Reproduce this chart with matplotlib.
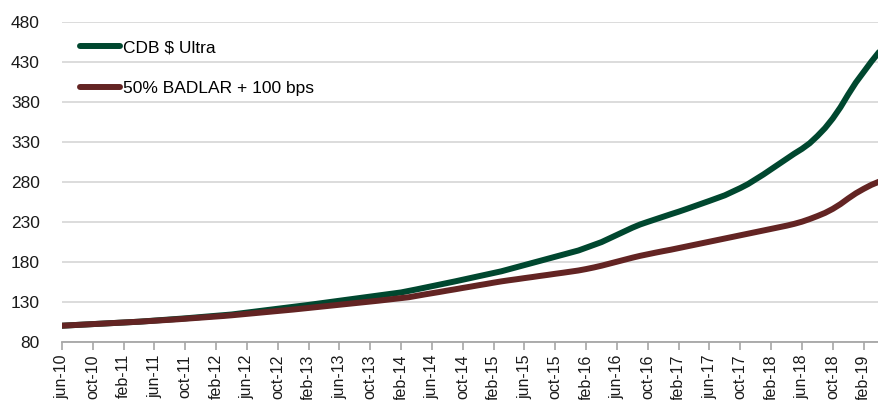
import numpy as np
import matplotlib.pyplot as plt

plt.rcParams['font.family'] = ['Liberation Sans', 'DejaVu Sans']

# Monthly index levels, jun-10 = 100
cdb_ultra = [
    100.0, 100.5, 101.0, 101.5, 102.0, 102.5, 103.0, 103.5, 104.0, 104.5,
    105.0, 105.7, 106.4, 107.1, 107.8, 108.5, 109.2, 110.0, 110.8, 111.6,
    112.4, 113.2, 114.0, 115.2, 116.4, 117.6, 118.8, 120.0, 121.2, 122.4,
    123.6, 124.8, 126.0, 127.3, 128.6, 129.9, 131.2, 132.5, 133.8, 135.1,
    136.4, 137.7, 139.0, 140.3, 141.6, 143.5, 145.4, 147.4, 149.4, 151.4,
    153.4, 155.4, 157.5, 159.6, 161.7, 163.8, 165.9, 168.0, 170.6, 173.2,
    175.8, 178.4, 181.0, 183.6, 186.2, 188.8, 191.4, 194.0, 197.5, 201.0,
    204.5, 209.0, 213.5, 218.0, 222.5, 226.5, 229.8, 233.0, 236.2, 239.4,
    242.5, 245.8, 249.2, 252.6, 256.0, 259.5, 263.0, 267.5, 272.0, 277.0,
    283.0, 289.0, 295.5, 302.0, 308.5, 315.0, 321.0, 328.0, 337.0, 347.0,
    359.0, 373.0, 389.0, 404.0, 417.0, 430.0, 442.0,
]
badlar = [
    100.0, 100.5, 101.0, 101.5, 102.0, 102.5, 103.0, 103.5, 104.0, 104.5,
    105.0, 105.6, 106.2, 106.8, 107.4, 108.0, 108.7, 109.4, 110.1, 110.8,
    111.5, 112.2, 113.0, 113.9, 114.8, 115.7, 116.6, 117.5, 118.4, 119.3,
    120.2, 121.2, 122.2, 123.2, 124.2, 125.2, 126.2, 127.2, 128.2, 129.2,
    130.2, 131.2, 132.3, 133.4, 134.5, 135.6, 137.3, 139.0, 140.6, 142.2,
    143.9, 145.5, 147.2, 148.8, 150.5, 152.1, 153.8, 155.4, 156.8, 158.1,
    159.5, 160.8, 162.2, 163.5, 164.9, 166.2, 167.6, 169.0, 170.8, 172.8,
    175.0, 177.5, 180.0, 182.5, 185.0, 187.3, 189.3, 191.3, 193.2, 195.0,
    197.0, 199.0, 201.0, 203.0, 205.0, 207.0, 209.0, 211.0, 213.0, 215.0,
    217.0, 219.0, 221.0, 223.0, 225.0, 227.3, 230.0, 233.3, 237.0, 241.0,
    246.0, 252.0, 259.0, 265.5, 271.0, 276.0, 280.0,
]

tick_labels = [
    'jun-10', 'oct-10', 'feb-11', 'jun-11', 'oct-11', 'feb-12', 'jun-12',
    'oct-12', 'feb-13', 'jun-13', 'oct-13', 'feb-14', 'jun-14', 'oct-14',
    'feb-15', 'jun-15', 'oct-15', 'feb-16', 'jun-16', 'oct-16', 'feb-17',
    'jun-17', 'oct-17', 'feb-18', 'jun-18', 'oct-18', 'feb-19',
]
y_ticks = [80, 130, 180, 230, 280, 330, 380, 430, 480]

x = np.arange(len(cdb_ultra))

fig = plt.figure(figsize=(8.79, 4.0), dpi=100)
ax = fig.add_axes([62 / 879, 58.3 / 400, 817 / 879, 320 / 400])

ax.plot(x, cdb_ultra, color='#00472f', lw=4.3, solid_capstyle='round',
        label='CDB $ Ultra', zorder=3)
ax.plot(x, badlar, color='#632423', lw=4.3, solid_capstyle='round',
        label='50% BADLAR + 100 bps', zorder=4)

ax.set_xlim(0, len(x) - 1)
ax.set_ylim(80, 480)
ax.set_yticks(y_ticks)
ax.set_xticks(np.arange(0, len(x), 4))
ax.set_xticklabels(tick_labels, rotation=90, fontsize=11.5, color='#1a1a1a')
ax.tick_params(axis='y', length=0, pad=16, labelsize=12.5, labelcolor='#1a1a1a')
ax.tick_params(axis='x', length=6, width=1.2, color='#a6a6a6', pad=3,
               direction='out')

ax.grid(axis='y', color='#d9d9d9', lw=1.3)
ax.set_axisbelow(True)
for side in ['top', 'right', 'left']:
    ax.spines[side].set_visible(False)
ax.spines['bottom'].set_color('#a6a6a6')
ax.spines['bottom'].set_linewidth(1.3)
ax.spines['bottom'].set_zorder(5)

leg = ax.legend(loc='upper left', bbox_to_anchor=(80 / 879, 1 - 40 / 400),
                bbox_transform=fig.transFigure, frameon=False, fontsize=12.5,
                handlelength=2.3, handletextpad=0.2, labelspacing=1.5,
                borderpad=0, borderaxespad=0)
for h in leg.get_lines():
    h.set_solid_capstyle('round')

fig.savefig('out.png', dpi=100)
